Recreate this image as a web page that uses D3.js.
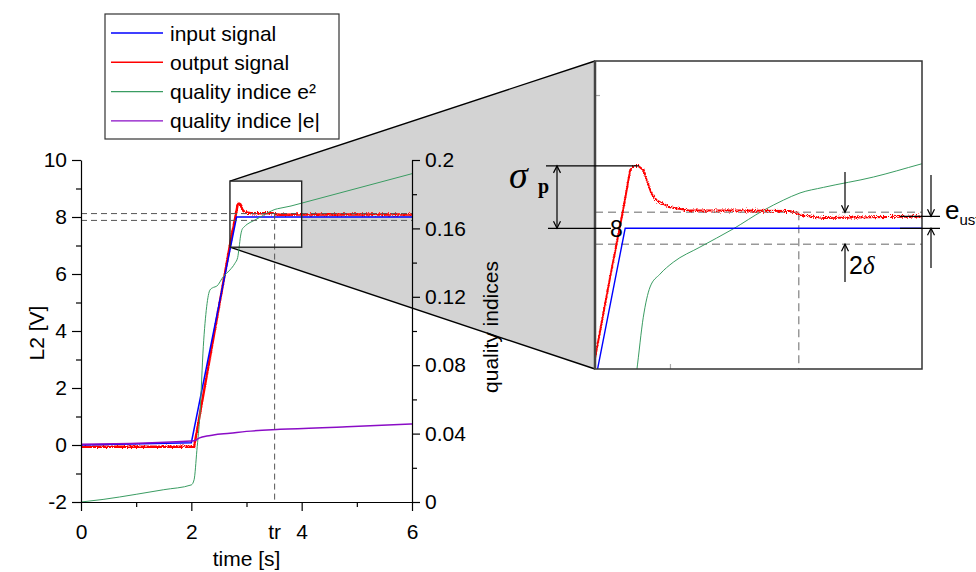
<!DOCTYPE html>
<html>
<head>
<meta charset="utf-8">
<script src="https://cdn.jsdelivr.net/npm/d3@7"></script>
<style>
  body { margin: 0; background: #fff; }
  svg { display: block; }
  text { font-family: "Liberation Sans", Arial, sans-serif; fill: #000; }
</style>
</head>
<body>
<svg id="chart" width="976" height="572"></svg>
<script>
// ---- data ----
const inputT = [0, 2.0, 2.82, 6];
const inputV = [0, 0.08, 8, 8];

const outputT = [0, 2.05, 2.70, 2.76, 2.806, 2.826, 2.84, 2.855, 2.872, 2.892, 2.906, 2.925, 2.945, 2.998, 3.078, 3.276, 3.475, 3.528, 3.608, 3.992, 6.0];
const outputV = [-0.06, -0.06, 7.02, 7.63, 8.08, 8.29, 8.44, 8.47, 8.47, 8.44, 8.36, 8.26, 8.21, 8.158, 8.133, 8.133, 8.13, 8.096, 8.078, 8.088, 8.09];

const e2T = [0, 0.4, 1.0, 1.5, 2.0, 2.05, 2.1, 2.157, 2.217, 2.278, 2.338, 2.40, 2.46, 2.58, 2.70, 2.79, 2.84, 2.866, 2.892, 2.919, 2.958, 3.011, 3.117, 3.25, 3.369, 3.449, 3.515, 3.608, 3.807, 3.992, 6.0];
const e2V = [0, 0.0015, 0.0045, 0.0072, 0.0100, 0.0130, 0.030, 0.052, 0.0908, 0.1142, 0.124, 0.1255, 0.1262, 0.1318, 0.1357, 0.1396, 0.1430, 0.1488, 0.1555, 0.1593, 0.1609, 0.1624, 0.1643, 0.1666, 0.1689, 0.1702, 0.1711, 0.1718, 0.1731, 0.1747, 0.192];

const absET = [0, 2.0, 2.05, 2.15, 2.28, 2.40, 2.70, 3.0, 3.61, 4.82, 6.0];
const absEV = [0.0337, 0.0357, 0.0358, 0.0375, 0.0386, 0.0392, 0.0402, 0.0413, 0.0425, 0.0440, 0.0456];

const xTicks = [0, 2, 4, 6];
const xMinor = [1, 3, 5];
const leftTicks = [-2, 0, 2, 4, 6, 8, 10];
const leftMinor = [-1, 1, 3, 5, 7, 9];
const rightTicks = [0, 0.04, 0.08, 0.12, 0.16, 0.2];
const rightTickLabels = ["0", "0.04", "0.08", "0.12", "0.16", "0.2"];
const rightMinor = [0.02, 0.06, 0.10, 0.14, 0.18];

const legendItems = [
  { label: "input signal", color: "#0000ff" },
  { label: "output signal", color: "#ff0000" },
  { label: "quality indice e\u00b2", color: "#3a9c62" },
  { label: "quality indice |e|", color: "#8a0cc6" }
];

// annotation values
const setpoint = 8;
const band = 0.12;
const peakVal = 8.47;
const steadyVal = 8.09;
const trTime = 3.51;
const zoomT = [2.7, 4.0];
const zoomV = [6.94, 9.26];

// ---- scales ----
const svg = d3.select("#chart");
const x = d3.scaleLinear([0, 6], [81, 412]);
const yL = d3.scaleLinear([-2, 10], [502, 160]);
const yR = d3.scaleLinear([0, 0.2], [502, 160]);

const box = { x0: x(zoomT[0]), x1: x(zoomT[1]), y0: yL(zoomV[1]), y1: yL(zoomV[0]) };
const inset = { x0: 595, x1: 922, y0: 61, y1: 369 };
const xIn = d3.scaleLinear(zoomT, [inset.x0, inset.x1]);
const yIn = d3.scaleLinear(zoomV, [inset.y1, inset.y0]);
const yInR = v => yIn(yL.invert(yR(v)));

const zip = (a, b) => a.map((d, i) => [d, b[i]]);
const inputData = zip(inputT, inputV);
const outputData = zip(outputT, outputV);
const e2Data = zip(e2T, e2V);
const absEData = zip(absET, absEV);

// measurement noise look for the output trace (vertical jitter only)
const defs = svg.append("defs");
function jitterFilter(id, freq, scale) {
  const f = defs.append("filter").attr("id", id)
    .attr("filterUnits", "userSpaceOnUse")
    .attr("x", 0).attr("y", 0).attr("width", 976).attr("height", 572);
  f.append("feTurbulence").attr("type", "fractalNoise")
    .attr("baseFrequency", freq).attr("numOctaves", 1).attr("seed", 5).attr("result", "noise");
  f.append("feColorMatrix").attr("in", "noise").attr("type", "matrix")
    .attr("values", "0 0 0 0 0.5  0 1 0 0 0  0 0 0 0 0  0 0 0 0 1").attr("result", "vnoise");
  f.append("feDisplacementMap").attr("in", "SourceGraphic").attr("in2", "vnoise")
    .attr("scale", scale).attr("xChannelSelector", "R").attr("yChannelSelector", "G");
}
jitterFilter("jitterMain", "1.2 0.9", 4);
jitterFilter("jitterInset", "1.1 0.9", 7);

defs.append("clipPath").attr("id", "clipInset")
  .append("rect").attr("x", inset.x0).attr("y", inset.y0)
  .attr("width", inset.x1 - inset.x0).attr("height", inset.y1 - inset.y0);

// ---- zoom connector ----
svg.append("path")
  .attr("d", `M${box.x0},${box.y0}L${inset.x0},${inset.y0}L${inset.x0},${inset.y1}L${box.x0},${box.y1}Z`)
  .attr("fill", "#d3d3d3");
svg.append("line").attr("x1", box.x0).attr("y1", box.y0).attr("x2", inset.x0).attr("y2", inset.y0)
  .attr("stroke", "#000").attr("stroke-width", 1.4);
svg.append("line").attr("x1", box.x0).attr("y1", box.y1).attr("x2", inset.x0).attr("y2", inset.y1)
  .attr("stroke", "#000").attr("stroke-width", 1.4);
svg.append("rect").attr("x", box.x0).attr("y", box.y0)
  .attr("width", box.x1 - box.x0).attr("height", box.y1 - box.y0).attr("fill", "#fff");

// ---- main curves ----
const lineL = d3.line().x(d => x(d[0])).y(d => yL(d[1]));
const lineR = d3.line().x(d => x(d[0])).y(d => yR(d[1])).curve(d3.curveMonotoneX);

svg.append("path").datum(outputData).attr("d", lineL)
  .attr("fill", "none").attr("stroke", "#ff0000").attr("stroke-width", 2.4).attr("filter", "url(#jitterMain)");
svg.append("path").datum(inputData).attr("d", lineL)
  .attr("fill", "none").attr("stroke", "#0000ff").attr("stroke-width", 1.5);
svg.append("path").datum(e2Data).attr("d", lineR)
  .attr("fill", "none").attr("stroke", "#3a9c62").attr("stroke-width", 1);
svg.append("path").datum(absEData).attr("d", lineR)
  .attr("fill", "none").attr("stroke", "#8a0cc6").attr("stroke-width", 1.5);

// dashed helper lines
const dash = svg.append("g").attr("stroke", "#555").attr("stroke-width", 1).attr("stroke-dasharray", "6,4");
[setpoint + band, setpoint - band].forEach(v => {
  dash.append("line").attr("x1", x(0)).attr("x2", x(6) + 1).attr("y1", yL(v)).attr("y2", yL(v));
});
dash.append("line").attr("x1", x(trTime)).attr("x2", x(trTime)).attr("y1", yL(setpoint + band)).attr("y2", yL(-2));

svg.append("rect").attr("x", box.x0).attr("y", box.y0)
  .attr("width", box.x1 - box.x0).attr("height", box.y1 - box.y0)
  .attr("fill", "none").attr("stroke", "#222").attr("stroke-width", 1.4);

// ---- axes ----
function styleAxis(g) {
  g.attr("font-family", null).attr("font-size", null);
  g.selectAll("path.domain").attr("stroke", "#000").attr("stroke-width", 1.2);
  g.selectAll(".tick line").attr("stroke", "#000").attr("stroke-width", 1.2);
  g.selectAll(".tick text").style("font-size", "21px").attr("fill", "#000");
}

svg.append("g").attr("transform", `translate(${x(0)},0)`)
  .call(d3.axisLeft(yL).tickValues(leftTicks).tickSize(9).tickPadding(5).tickSizeOuter(0).tickFormat(d => String(d)))
  .call(styleAxis);
svg.append("g").attr("transform", `translate(${x(0)},0)`)
  .call(d3.axisLeft(yL).tickValues(leftMinor).tickSize(5).tickFormat("")).call(styleAxis)
  .select("path.domain").remove();

svg.append("g").attr("transform", `translate(${x(6)},0)`)
  .call(d3.axisRight(yR).tickValues(rightTicks).tickSize(8).tickPadding(5).tickSizeOuter(0)
    .tickFormat((d, i) => rightTickLabels[i]))
  .call(styleAxis);
svg.append("g").attr("transform", `translate(${x(6)},0)`)
  .call(d3.axisRight(yR).tickValues(rightMinor).tickSize(5).tickFormat("")).call(styleAxis)
  .select("path.domain").remove();

svg.append("g").attr("transform", `translate(0,${yL(-2)})`)
  .call(d3.axisBottom(x).tickValues(xTicks).tickSize(9).tickPadding(13).tickSizeOuter(0).tickFormat(d => String(d)))
  .call(styleAxis);
svg.append("g").attr("transform", `translate(0,${yL(-2)})`)
  .call(d3.axisBottom(x).tickValues(xMinor).tickSize(5).tickFormat("")).call(styleAxis)
  .select("path.domain").remove();

svg.append("text").attr("x", x(trTime)).attr("y", 539).attr("text-anchor", "middle")
  .style("font-size", "21px").text("tr");

svg.append("text").attr("x", (x(0) + x(6)) / 2).attr("y", 566).attr("text-anchor", "middle")
  .style("font-size", "21px").text("time [s]");
svg.append("text").attr("transform", "translate(44,333) rotate(-90)").attr("text-anchor", "middle")
  .style("font-size", "21px").text("L2 [V]");
svg.append("text").attr("transform", "translate(498,327) rotate(-90)").attr("text-anchor", "middle")
  .style("font-size", "21px").text("quality indices");

// ---- legend ----
const legend = svg.append("g");
legend.append("rect").attr("x", 105).attr("y", 14).attr("width", 234).attr("height", 125)
  .attr("fill", "#fff").attr("stroke", "#333").attr("stroke-width", 1.2);
legendItems.forEach((d, i) => {
  const yy = 33 + i * 29.3;
  legend.append("line").attr("x1", 111).attr("x2", 163).attr("y1", yy).attr("y2", yy)
    .attr("stroke", d.color).attr("stroke-width", i < 2 ? 1.5 : 1.2);
  legend.append("text").attr("x", 170).attr("y", yy + 7.5).style("font-size", "21px").text(d.label);
});

// ---- inset ----
svg.append("rect").attr("x", inset.x0).attr("y", inset.y0)
  .attr("width", inset.x1 - inset.x0).attr("height", inset.y1 - inset.y0).attr("fill", "#fff");

const ins = svg.append("g").attr("clip-path", "url(#clipInset)");
const lineInL = d3.line().x(d => xIn(d[0])).y(d => yIn(d[1]));
const lineInR = d3.line().x(d => xIn(d[0])).y(d => yInR(d[1])).curve(d3.curveMonotoneX);

const dashIn = ins.append("g").attr("stroke", "#999").attr("stroke-width", 1.5).attr("stroke-dasharray", "8,5");
[setpoint + band, setpoint - band].forEach(v => {
  dashIn.append("line").attr("x1", inset.x0).attr("x2", inset.x1).attr("y1", yIn(v)).attr("y2", yIn(v));
});
dashIn.append("line").attr("x1", xIn(trTime)).attr("x2", xIn(trTime)).attr("y1", yIn(setpoint + band)).attr("y2", inset.y1);

ins.append("path").datum(e2Data).attr("d", lineInR)
  .attr("fill", "none").attr("stroke", "#3a9c62").attr("stroke-width", 1);
ins.append("path").datum(inputData).attr("d", lineInL)
  .attr("fill", "none").attr("stroke", "#0000ff").attr("stroke-width", 1.4);
ins.append("path").datum(outputData).attr("d", lineInL)
  .attr("fill", "none").attr("stroke", "#ff0000").attr("stroke-width", 2).attr("filter", "url(#jitterInset)");

// faint inset ticks
ins.append("line").attr("x1", inset.x0).attr("x2", inset.x0 + 5).attr("y1", yIn(9)).attr("y2", yIn(9))
  .attr("stroke", "#aaa").attr("stroke-width", 1.2);
ins.append("line").attr("x1", xIn(3)).attr("x2", xIn(3)).attr("y1", inset.y1).attr("y2", inset.y1 - 5)
  .attr("stroke", "#aaa").attr("stroke-width", 1.2);

svg.append("rect").attr("x", inset.x0).attr("y", inset.y0)
  .attr("width", inset.x1 - inset.x0).attr("height", inset.y1 - inset.y0)
  .attr("fill", "none").attr("stroke", "#333").attr("stroke-width", 1.5);
svg.append("line").attr("x1", inset.x0).attr("x2", inset.x0).attr("y1", inset.y0).attr("y2", inset.y1)
  .attr("stroke", "#444").attr("stroke-width", 2.5);

// ---- annotations ----
const ann = svg.append("g").attr("stroke", "#000").attr("stroke-width", 1.2).attr("fill", "none");
function arrow(xx, yFrom, yTo) {
  ann.append("line").attr("x1", xx).attr("x2", xx).attr("y1", yFrom).attr("y2", yTo);
  const s = Math.sign(yTo - yFrom);
  ann.append("path").attr("d", `M${xx - 3.5},${yTo - s * 7}L${xx},${yTo}L${xx + 3.5},${yTo - s * 7}`);
}

// overshoot
ann.append("line").attr("x1", 546).attr("x2", xIn(2.875)).attr("y1", yIn(peakVal)).attr("y2", yIn(peakVal));
ann.append("line").attr("x1", 548).attr("x2", 611).attr("y1", yIn(setpoint)).attr("y2", yIn(setpoint));
arrow(557, (yIn(peakVal) + yIn(setpoint)) / 2, yIn(peakVal));
arrow(557, (yIn(peakVal) + yIn(setpoint)) / 2, yIn(setpoint));

svg.append("text").attr("x", 509).attr("y", 188)
  .style("font-family", '"Liberation Serif", "DejaVu Serif", serif').style("font-style", "italic")
  .style("font-size", "38px").text("\u03c3");
svg.append("text").attr("x", 538).attr("y", 193)
  .style("font-family", '"Liberation Serif", "DejaVu Serif", serif').style("font-weight", "bold")
  .style("font-size", "20px").text("p");

svg.append("text").attr("x", 610).attr("y", yIn(setpoint) + 9).style("font-size", "23px").text("8");

// steady state error
ann.append("line").attr("x1", 900).attr("x2", 940).attr("y1", yIn(steadyVal)).attr("y2", yIn(steadyVal));
ann.append("line").attr("x1", 900).attr("x2", 940).attr("y1", yIn(setpoint)).attr("y2", yIn(setpoint));
arrow(931, 175, yIn(steadyVal));
arrow(931, 268, yIn(setpoint));
const eu = svg.append("text").attr("x", 945).attr("y", 219).style("font-size", "26px");
eu.append("tspan").text("e");
eu.append("tspan").attr("dy", 6).style("font-size", "15px").text("ust");

// band
arrow(845, 172, yIn(setpoint + band));
arrow(845, 282, yIn(setpoint - band));
const dl = svg.append("text").attr("x", 849).attr("y", 274).style("font-size", "25px");
dl.append("tspan").text("2");
dl.append("tspan").style("font-family", '"Liberation Serif", "DejaVu Serif", serif').style("font-style", "italic").text("\u03b4");
</script>
</body>
</html>
